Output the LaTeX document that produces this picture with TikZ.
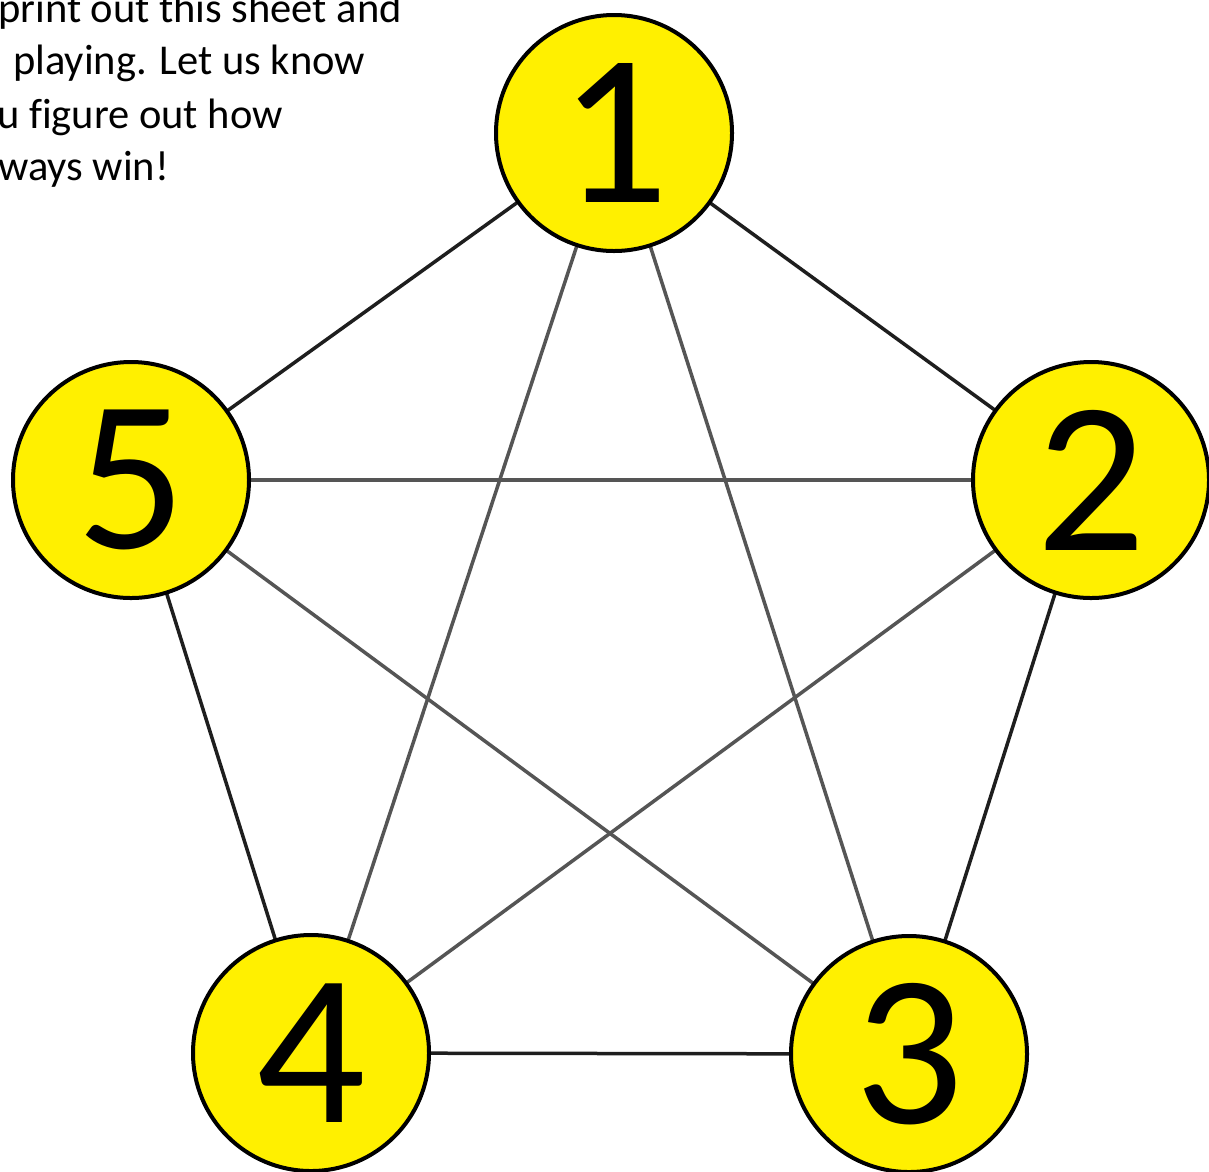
\documentclass[tikz,border=0pt]{standalone}
\usepackage{fontspec}
\setmainfont{Carlito}[Ligatures=NoCommon]
\definecolor{vyellow}{RGB}{255,240,0}
\definecolor{outeredge}{RGB}{30,30,30}
\definecolor{inneredge}{RGB}{85,85,85}
\begin{document}
\begin{tikzpicture}[x=1pt,y=-1pt,
  vtx/.style={circle,draw=black,line width=4pt,fill=vyellow,minimum size=236pt,inner sep=0pt,
    font=\fontsize{216}{216}\selectfont},
  outer/.style={draw=outeredge,line width=3.5pt},
  inner/.style={draw=inneredge,line width=3.5pt},
  note/.style={anchor=base west,inner sep=0pt,font=\fontsize{42.5}{53}\selectfont}]
\useasboundingbox (0,0) rectangle (1209,1171);
\clip (0,0) rectangle (1209,1171);
\fill[white] (0,0) rectangle (1209,1171);
\node[note] (t1) at (-2,22) {print out this sheet and};
\node[note] (t2) at (13,74) {playing. Let us know};
\node[note] (t3) at (-3,128) {u figure out how};
\node[note] (t4) at (-2,180) {ways win!};
\coordinate (c1) at (614,133);
\coordinate (c2) at (1091,480);
\coordinate (c3) at (909,1054);
\coordinate (c4) at (311,1053);
\coordinate (c5) at (131,480);
\draw[inner] (c1) -- (c3);
\draw[inner] (c1) -- (c4);
\draw[inner] (c2) -- (c4);
\draw[inner] (c2) -- (c5);
\draw[inner] (c3) -- (c5);
\draw[outer] (c1) -- (c2);
\draw[outer] (c2) -- (c3);
\draw[outer] (c3) -- (c4);
\draw[outer] (c4) -- (c5);
\draw[outer] (c5) -- (c1);
\node[vtx] (n1) at (c1) {1};
\node[vtx] (n2) at (c2) {2};
\node[vtx] (n3) at (c3) {3};
\node[vtx] (n4) at (c4) {4};
\node[vtx] (n5) at (c5) {5};
\end{tikzpicture}
\end{document}
